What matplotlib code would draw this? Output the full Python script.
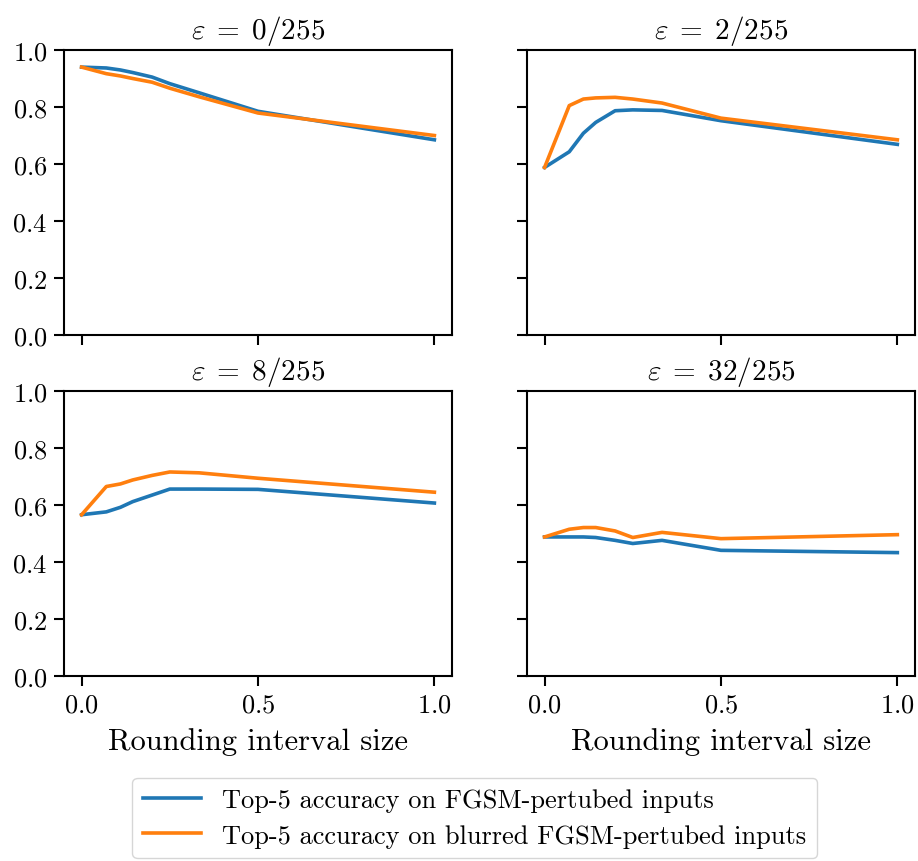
import matplotlib
matplotlib.use("Agg")
import matplotlib.pyplot as plt

plt.rcParams['font.family'] = 'serif'
plt.rcParams['font.serif'] = ['cmr10']
plt.rcParams['mathtext.fontset'] = 'cm'
plt.rcParams['axes.formatter.use_mathtext'] = True
plt.rcParams['axes.unicode_minus'] = False

# rounding interval sizes
intervals = [0.0, 0.07, 0.11, 0.145, 0.2, 0.25, 0.333, 0.5, 1.0]

titles = [r'$\varepsilon\;=\;0/255$', r'$\varepsilon\;=\;2/255$',
          r'$\varepsilon\;=\;8/255$', r'$\varepsilon\;=\;32/255$']

# top-5 accuracy on FGSM-perturbed inputs
acc_eps0 = [0.94, 0.937, 0.93, 0.921, 0.905, 0.882, 0.85, 0.785, 0.685]
acc_eps2 = [0.588, 0.643, 0.708, 0.746, 0.787, 0.79, 0.788, 0.752, 0.669]
acc_eps8 = [0.566, 0.576, 0.592, 0.612, 0.635, 0.656, 0.656, 0.655, 0.607]
acc_eps32 = [0.488, 0.488, 0.488, 0.486, 0.476, 0.465, 0.476, 0.441, 0.433]

# top-5 accuracy on blurred FGSM-perturbed inputs
blur_eps0 = [0.94, 0.917, 0.909, 0.9, 0.887, 0.866, 0.836, 0.779, 0.70]
blur_eps2 = [0.588, 0.805, 0.828, 0.832, 0.834, 0.828, 0.814, 0.761, 0.685]
blur_eps8 = [0.566, 0.665, 0.674, 0.688, 0.704, 0.716, 0.713, 0.694, 0.645]
blur_eps32 = [0.488, 0.515, 0.521, 0.521, 0.509, 0.486, 0.504, 0.482, 0.496]

plain = [acc_eps0, acc_eps2, acc_eps8, acc_eps32]
blurred = [blur_eps0, blur_eps2, blur_eps8, blur_eps32]

fig, axes = plt.subplots(2, 2, figsize=(9.18, 8.62), dpi=100, sharex=True, sharey=True)
positions = [[0.0697, 0.6102, 0.4227, 0.3306], [0.574, 0.6102, 0.4227, 0.3306],
             [0.0697, 0.2146, 0.4227, 0.3306], [0.574, 0.2146, 0.4227, 0.3306]]

for i, ax in enumerate(axes.flat):
    ax.set_position(positions[i])
    l1, = ax.plot(intervals, plain[i], color='#1f77b4', lw=2.6,
                  label='Top-5 accuracy on FGSM-pertubed inputs')
    l2, = ax.plot(intervals, blurred[i], color='#ff7f0e', lw=2.6,
                  label='Top-5 accuracy on blurred FGSM-pertubed inputs')
    ax.set_ylim(0, 1)
    ax.set_yticks([0.0, 0.2, 0.4, 0.6, 0.8, 1.0])
    ax.set_xticks([0.0, 0.5, 1.0])
    ax.set_title(titles[i], fontsize=21, pad=9)
    ax.tick_params(labelsize=19, width=1.5, length=7, pad=5)
    for s in ax.spines.values():
        s.set_linewidth(1.5)
    if i >= 2:
        ax.set_xlabel('Rounding interval size', fontsize=22, labelpad=8)

fig.legend(handles=[l1, l2], loc='lower center', bbox_to_anchor=(0.517, -0.012),
           fontsize=19, frameon=True, handlelength=2.2, borderpad=0.4,
           labelspacing=0.45)

fig.savefig('out.png', dpi=100)
